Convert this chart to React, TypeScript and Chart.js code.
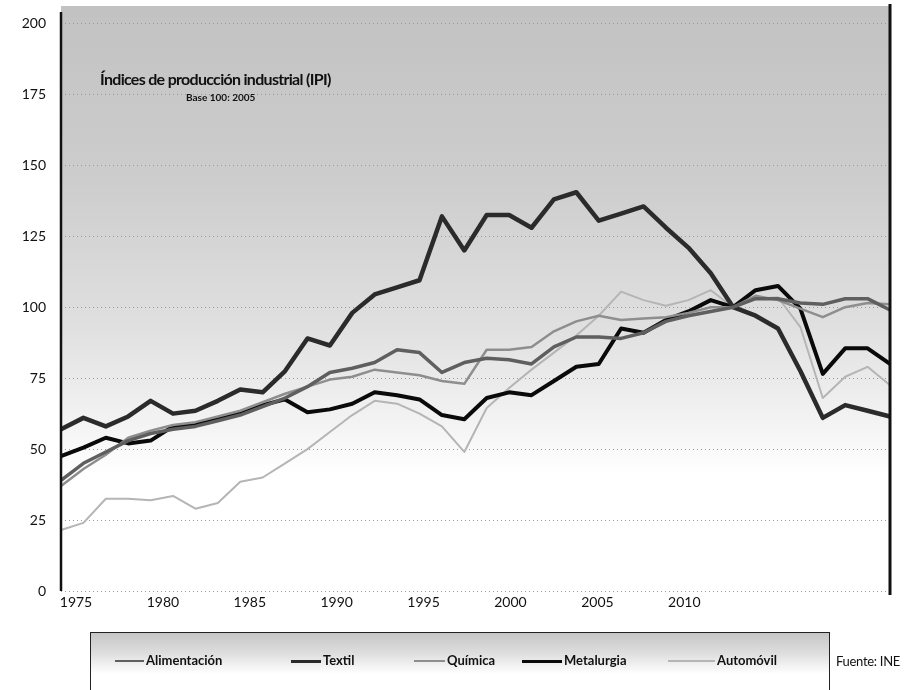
import { useEffect, useRef } from "react";
import { Chart, registerables } from "chart.js";

Chart.register(...registerables);

const years = [
  1975, 1976, 1977, 1978, 1979, 1980, 1981, 1982, 1983, 1984,
  1985, 1986, 1987, 1988, 1989, 1990, 1991, 1992, 1993, 1994,
  1995, 1996, 1997, 1998, 1999, 2000, 2001, 2002, 2003, 2004,
  2005, 2006, 2007, 2008, 2009, 2010, 2011, 2012,
];

const xTickLabels = [1975, 1980, 1985, 1990, 1995, 2000, 2005, 2010];
const yTickValues = [0, 25, 50, 75, 100, 125, 150, 175, 200];

const alimentacion = [
  39, 45, 49, 53, 55.5, 57, 58, 60, 62, 65,
  68, 72, 77, 78.5, 80.5, 85, 84, 77, 80.5, 82,
  81.5, 80, 86, 89.5, 89.5, 89, 91, 95, 97, 98.5,
  100, 103, 103, 101.5, 101, 103, 103, 99,
];

const textil = [
  57, 61, 58, 61.5, 67, 62.5, 63.5, 67, 71, 70,
  77.5, 89, 86.5, 98, 104.5, 107, 109.5, 132, 120, 132.5,
  132.5, 128, 138, 140.5, 130.5, 133, 135.5, 128, 121, 112,
  100, 97, 92.5, 77.5, 61, 65.5, 63.5, 61.5,
];

const quimica = [
  37, 43, 48, 54, 56.5, 58.5, 59.5, 61.5, 63.5, 66.5,
  69.5, 72, 74.5, 75.5, 78, 77, 76, 74, 73, 85,
  85, 86, 91.5, 95, 97, 95.5, 96, 96.5, 98, 100,
  100, 104, 102.5, 99.5, 96.5, 100, 101.5, 101,
];

const metalurgia = [
  47.5, 50.5, 54, 52, 53, 58, 58.5, 61, 63, 65.5,
  67.5, 63, 64, 66, 70, 69, 67.5, 62, 60.5, 68,
  70, 69, 74, 79, 80, 92.5, 91, 95.5, 98.5, 102.5,
  100, 106, 107.5, 99.5, 76.5, 85.5, 85.5, 80,
];

const automovil = [
  21.5, 24, 32.5, 32.5, 32, 33.5, 29, 31, 38.5, 40,
  45, 50, 56, 62, 67, 66, 62.5, 58, 49, 64.5,
  71.5, 78, 84, 90, 97, 105.5, 102.5, 100.5, 102.5, 106,
  100, 103, 103.5, 93, 68, 75.5, 79, 72.5,
];

const seriesNames = ["Alimentación", "Textil", "Química", "Metalurgia", "Automóvil"];
const seriesValues = [alimentacion, textil, quimica, metalurgia, automovil];
const seriesColors = ["#5f5f5f", "#2b2b2b", "#8e8e8e", "#0a0a0a", "#b5b5b5"];
const seriesWidths = [3.5, 4.5, 2.5, 4, 2];

const titleText = "Índices de producción industrial (IPI)";
const subtitleText = "Base 100: 2005";
const sourceText = "Fuente: INE";

const FONT = "Lato, 'Open Sans', 'DejaVu Sans', sans-serif";

const legendPos = [
  { sample: 115, text: 146 },
  { sample: 291, text: 323 },
  { sample: 414, text: 447 },
  { sample: 522, text: 564 },
  { sample: 668, text: 717 },
];

export default function App() {
  const canvasRef = useRef<HTMLCanvasElement>(null);

  useEffect(() => {
    const canvas = canvasRef.current;
    if (!canvas) return;

    const framePlugin = {
      id: "frame",
      beforeDraw(chart: any) {
        const { ctx, chartArea: a } = chart;
        const top = 6;
        const g = ctx.createLinearGradient(0, top, 0, a.bottom);
        g.addColorStop(0, "#c2c2c2");
        g.addColorStop(0.3, "#cdcdcd");
        g.addColorStop(0.55, "#e0e0e0");
        g.addColorStop(0.72, "#f4f4f4");
        g.addColorStop(0.8, "#ffffff");
        g.addColorStop(1, "#ffffff");
        ctx.save();
        ctx.fillStyle = g;
        ctx.fillRect(a.left, top, a.right - a.left, a.bottom - top);
        ctx.restore();
      },
      afterDraw(chart: any) {
        const { ctx, chartArea: a } = chart;
        ctx.save();
        ctx.strokeStyle = "#111";
        ctx.lineWidth = 2.5;
        ctx.beginPath();
        ctx.moveTo(a.left, 12);
        ctx.lineTo(a.left, a.bottom);
        ctx.stroke();
        ctx.lineWidth = 3;
        ctx.beginPath();
        ctx.moveTo(a.right, 4);
        ctx.lineTo(a.right, a.bottom + 4);
        ctx.stroke();
        ctx.restore();
      },
    };

    const chart = new Chart(canvas, {
      type: "line",
      data: {
        labels: years.map(String),
        datasets: seriesNames.map((name, i) => ({
          label: name,
          data: seriesValues[i],
          borderColor: seriesColors[i],
          backgroundColor: seriesColors[i],
          borderWidth: seriesWidths[i],
          pointRadius: 0,
          tension: 0,
          borderJoinStyle: "round" as const,
          xAxisID: "x",
          yAxisID: "y",
        })),
      },
      options: {
        animation: false,
        responsive: false,
        devicePixelRatio: 1,
        layout: { padding: { left: 0, right: 15, top: 20, bottom: 0 } },
        plugins: {
          legend: { display: false },
          title: { display: false },
          tooltip: { enabled: false },
        },
        scales: {
          x: {
            type: "category",
            display: false,
            offset: false,
          },
          x2: {
            type: "linear",
            position: "bottom",
            min: 1974.137,
            max: 2021.837,
            afterBuildTicks: (s: any) => {
              s.ticks = xTickLabels.map((v) => ({ value: v }));
            },
            grid: { display: false, drawTicks: false },
            border: { display: false },
            ticks: {
              autoSkip: false,
              maxRotation: 0,
              padding: 3,
              color: "#111",
              font: { family: FONT, size: 14 },
              callback: (v: any) => String(v),
            },
            afterFit: (s: any) => {
              s.height = 99;
            },
          },
          y: {
            type: "linear",
            min: 0,
            max: 200,
            afterBuildTicks: (s: any) => {
              s.ticks = yTickValues.map((v) => ({ value: v }));
            },
            grid: { color: "#9a9a9a", lineWidth: 1, drawTicks: false },
            border: { display: false, dash: [1, 3] },
            ticks: {
              padding: 15,
              color: "#111",
              font: { family: FONT, size: 14 },
              callback: (v: any) => String(v),
            },
            afterFit: (s: any) => {
              s.width = 61;
            },
          },
        },
      },
      plugins: [framePlugin],
    });

    return () => chart.destroy();
  }, []);

  return (
    <div
      style={{
        position: "absolute",
        left: 0,
        top: 0,
        width: 905,
        height: 690,
        overflow: "hidden",
        background: "#fff",
        fontFamily: FONT,
      }}
    >
      <canvas
        ref={canvasRef}
        width={905}
        height={690}
        style={{ position: "absolute", left: 0, top: 0 }}
      />
      <div
        style={{
          position: "absolute",
          left: 100,
          top: 70,
          fontWeight: 700,
          fontSize: 16,
          letterSpacing: -0.7,
          color: "#111",
          whiteSpace: "nowrap",
          lineHeight: "18px",
        }}
      >
        {titleText}
      </div>
      <div
        style={{
          position: "absolute",
          left: 186,
          top: 91,
          fontWeight: 700,
          fontSize: 10,
          color: "#111",
          whiteSpace: "nowrap",
          lineHeight: "12px",
        }}
      >
        {subtitleText}
      </div>
      <div
        style={{
          position: "absolute",
          left: 90,
          top: 632,
          width: 740,
          height: 70,
          border: "1px solid #222",
          background: "linear-gradient(#c6c6c6 0%, #dedede 30%, #ffffff 60%)",
          boxSizing: "border-box",
        }}
      />
      {seriesNames.map((name, i) => (
        <div key={name}>
          <div
            style={{
              position: "absolute",
              left: legendPos[i].sample,
              top: 660,
              width: legendPos[i].text - legendPos[i].sample - 2,
              height: Math.max(2, Math.round(seriesWidths[i] * 0.7)),
              background: seriesColors[i],
            }}
          />
          <div
            style={{
              position: "absolute",
              left: legendPos[i].text,
              top: 652,
              fontSize: 13,
              fontWeight: 700,
              color: "#111",
              whiteSpace: "nowrap",
              lineHeight: "16px",
            }}
          >
            {name}
          </div>
        </div>
      ))}
      <div
        style={{
          position: "absolute",
          left: 836,
          top: 653,
          fontSize: 13,
          letterSpacing: -0.3,
          color: "#111",
          whiteSpace: "nowrap",
          lineHeight: "16px",
        }}
      >
        {sourceText}
      </div>
    </div>
  );
}
